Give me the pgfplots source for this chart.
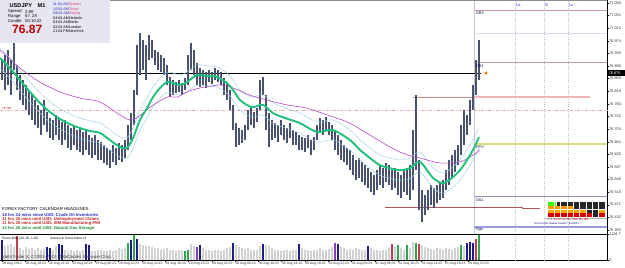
\documentclass[border=0pt]{standalone}
\usepackage{fontspec}
\setmainfont{Liberation Sans}
\usepackage{pgfplots}
\pgfplotsset{compat=1.18}
\usepackage{pgfplotstable}
\definecolor{candle}{HTML}{4A5274}
\definecolor{greenma}{HTML}{1FC07A}
\definecolor{band}{HTML}{9CCFE6}
\definecolor{magma}{HTML}{B43CC8}
\definecolor{lvl}{HTML}{C89A9A}
\definecolor{lav}{HTML}{DCDCF4}
\definecolor{ppv}{HTML}{DCDC78}
\definecolor{dsone}{HTML}{8F8FC0}
\definecolor{rgs}{HTML}{9A9AE6}
\definecolor{volgray}{HTML}{D2D2D2}
\definecolor{volnavy}{HTML}{1C1C8C}
\definecolor{volgreen}{HTML}{2EA84A}
\definecolor{volred}{HTML}{C83C50}
\definecolor{volpurple}{HTML}{8C3CB4}
\definecolor{boxbg}{HTML}{E6E6F2}
\definecolor{tblue}{HTML}{2A2AC0}
\definecolor{tpink}{HTML}{E0407A}
\definecolor{tred}{HTML}{C82020}
\definecolor{tgreen}{HTML}{1E8A2E}
\newcommand\fs[1]{\fontsize{#1}{#1}\selectfont}

\pgfplotstableread{
x lo hi
2 76.853 76.915
5 76.823 76.930
8 76.838 76.946
11 76.807 76.915
14 76.884 76.970
17 76.823 76.899
20 76.792 76.869
23 76.777 76.853
26 76.761 76.838
29 76.746 76.823
32 76.731 76.807
35 76.715 76.792
38 76.706 76.777
41 76.685 76.761
44 76.715 76.792
47 76.694 76.755
50 76.675 76.737
53 76.669 76.731
56 76.685 76.746
59 76.669 76.737
62 76.654 76.724
65 76.669 76.731
68 76.645 76.715
71 76.639 76.706
74 76.654 76.715
77 76.639 76.700
80 76.632 76.706
83 76.623 76.694
86 76.639 76.700
89 76.623 76.685
92 76.614 76.675
95 76.623 76.685
98 76.608 76.669
101 76.608 76.663
104 76.599 76.654
107 76.592 76.645
110 76.583 76.639
113 76.602 76.654
116 76.592 76.645
119 76.608 76.660
122 76.602 76.654
125 76.614 76.669
128 76.639 76.715
131 76.669 76.752
134 76.715 76.823
137 76.807 76.961
140 76.869 76.998
143 76.884 76.976
146 76.853 76.961
149 76.915 76.992
152 76.921 76.976
155 76.899 76.946
158 76.884 76.939
161 76.878 76.930
164 76.869 76.921
167 76.838 76.899
170 76.801 76.863
173 76.807 76.853
176 76.814 76.847
179 76.817 76.853
182 76.807 76.844
185 76.823 76.860
188 76.838 76.930
191 76.884 76.967
194 76.869 76.946
197 76.838 76.906
200 76.832 76.890
203 76.838 76.884
206 76.829 76.878
209 76.847 76.884
212 76.841 76.878
215 76.853 76.890
218 76.847 76.884
221 76.838 76.878
224 76.807 76.860
227 76.792 76.847
230 76.761 76.823
233 76.700 76.777
236 76.648 76.721
239 76.654 76.706
242 76.660 76.700
245 76.669 76.715
248 76.700 76.761
251 76.715 76.770
254 76.706 76.755
257 76.724 76.767
260 76.761 76.853
263 76.807 76.863
266 76.700 76.807
269 76.648 76.752
272 76.669 76.731
275 76.675 76.721
278 76.663 76.715
281 76.685 76.731
284 76.669 76.715
287 76.660 76.706
290 76.675 76.721
293 76.654 76.700
296 76.654 76.694
299 76.639 76.685
302 76.639 76.678
305 76.632 76.675
308 76.645 76.685
311 76.623 76.669
314 76.639 76.678
317 76.669 76.715
320 76.691 76.737
323 76.685 76.731
326 76.700 76.740
329 76.685 76.724
332 76.669 76.715
335 76.639 76.700
338 76.623 76.685
341 76.608 76.669
344 76.602 76.654
347 76.592 76.645
350 76.577 76.639
353 76.562 76.623
356 76.546 76.608
359 76.553 76.614
362 76.540 76.602
365 76.531 76.592
368 76.522 76.583
371 76.510 76.571
374 76.500 76.562
377 76.516 76.577
380 76.531 76.592
383 76.522 76.583
386 76.540 76.599
389 76.531 76.592
392 76.516 76.577
395 76.522 76.583
398 76.500 76.571
401 76.491 76.562
404 76.510 76.577
407 76.500 76.583
410 76.485 76.592
413 76.516 76.700
416 76.577 76.807
419 76.454 76.608
422 76.417 76.516
425 76.439 76.500
428 76.454 76.516
431 76.470 76.531
434 76.460 76.522
437 76.476 76.531
440 76.485 76.540
443 76.491 76.546
446 76.516 76.577
449 76.531 76.608
452 76.553 76.623
455 76.571 76.639
458 76.592 76.654
461 76.623 76.715
464 76.654 76.761
467 76.685 76.746
470 76.715 76.792
473 76.761 76.838
476 76.807 76.915
479 76.853 76.976
}\candles

\pgfplotstableread{
x g up dn
0 76.921 76.952 76.890
10 76.890 76.921 76.859
20 76.853 76.884 76.822
30 76.817 76.848 76.786
40 76.783 76.814 76.752
50 76.755 76.786 76.724
60 76.734 76.765 76.703
70 76.718 76.749 76.687
80 76.706 76.737 76.675
90 76.697 76.728 76.666
100 76.691 76.722 76.660
110 76.669 76.700 76.638
120 76.648 76.679 76.617
127 76.645 76.676 76.614
133 76.675 76.706 76.644
140 76.731 76.762 76.700
147 76.767 76.798 76.736
153 76.801 76.832 76.770
160 76.829 76.860 76.798
167 76.847 76.878 76.816
173 76.844 76.875 76.813
180 76.838 76.869 76.807
187 76.847 76.878 76.816
197 76.869 76.900 76.838
207 76.866 76.897 76.835
217 76.863 76.894 76.832
227 76.844 76.875 76.813
233 76.823 76.854 76.792
240 76.792 76.823 76.761
247 76.777 76.808 76.746
253 76.770 76.801 76.739
263 76.777 76.808 76.746
273 76.752 76.783 76.721
285 76.737 76.768 76.706
300 76.721 76.752 76.690
317 76.694 76.725 76.663
333 76.700 76.731 76.669
350 76.669 76.700 76.638
360 76.639 76.670 76.608
370 76.614 76.645 76.583
380 76.592 76.623 76.561
390 76.583 76.614 76.552
400 76.577 76.608 76.546
410 76.583 76.614 76.552
420 76.602 76.633 76.571
433 76.553 76.584 76.522
443 76.537 76.568 76.506
452 76.553 76.584 76.522
460 76.577 76.608 76.546
467 76.608 76.639 76.577
473 76.639 76.670 76.608
479 76.678 76.709 76.647
}\mas

\pgfplotstableread{
x m
0 76.946
20 76.890
40 76.847
60 76.817
80 76.798
100 76.786
120 76.746
133 76.731
150 76.770
167 76.801
177 76.801
187 76.817
200 76.829
220 76.838
233 76.829
250 76.807
267 76.792
287 76.777
307 76.767
333 76.740
350 76.721
375 76.675
400 76.632
420 76.614
440 76.599
460 76.602
473 76.623
480 76.639
}\magenta

\pgfplotstableread{
x v
2 850
5 600
8 650
11 700
14 550
17 1050
20 500
23 450
26 550
29 480
32 520
35 450
38 500
41 430
44 480
47 550
50 520
53 450
56 600
59 700
62 650
65 450
68 400
71 420
74 380
77 450
80 400
83 420
86 700
89 650
92 400
95 380
98 420
101 450
104 400
107 380
110 420
113 400
116 450
119 500
122 480
125 520
128 750
131 850
134 1100
137 900
140 700
143 650
146 600
149 620
152 550
155 500
158 520
161 450
164 480
167 500
170 450
173 420
176 400
179 450
182 420
185 400
188 450
191 700
194 600
197 550
200 650
203 500
206 450
209 420
212 400
215 450
218 420
221 400
224 450
227 500
230 550
233 750
236 650
239 550
242 500
245 480
248 520
251 450
254 420
257 450
260 600
263 700
266 650
269 600
272 500
275 450
278 420
281 400
284 450
287 420
290 400
293 450
296 420
299 700
302 500
305 450
308 420
311 400
314 450
317 420
320 500
323 450
326 420
329 480
332 550
335 750
338 700
341 550
344 500
347 450
350 480
353 450
356 500
359 480
362 450
365 420
368 600
371 500
374 450
377 420
380 400
383 450
386 420
389 500
392 700
395 550
398 650
401 500
404 450
407 650
410 500
413 800
416 750
419 700
422 650
425 550
428 500
431 480
434 450
437 500
440 480
443 450
446 500
449 480
452 450
455 500
458 550
461 650
464 600
467 750
470 800
473 750
476 900
479 1126
}\vol

\begin{document}
\begin{tikzpicture}[x=1pt,y=1pt]
\useasboundingbox (0pt,0pt) rectangle (625pt,-268pt);
\fill[white] (0pt,0pt) rectangle (625pt,-268pt);

% ---------------- price panel ----------------
\begin{axis}[
  at={(0pt,0pt)}, anchor=north west, scale only axis,
  width=607pt, height=234pt,
  xmin=0, xmax=607, ymin=76.381, ymax=77.099,
  axis x line=none, axis y line*=right,
  axis line style={black, line width=0.5pt},
  xtick=\empty,
  ytick={77.090,77.051,77.012,76.974,76.935,76.896,76.858,76.819,76.780,76.742,76.703,76.664,76.626,76.587,76.548,76.510,76.471,76.432,76.393},
  yticklabels={77.090,77.051,77.012,76.974,76.935,76.896,76.858,76.819,76.780,76.742,76.703,76.664,76.626,76.587,76.548,76.510,76.471,76.432,76.393},
  tick align=outside, major tick length=1.5pt,
  ytick style={black, line width=0.3pt},
  yticklabel style={font=\fs{3.8}, inner xsep=0.6pt, text=black!80},
  clip=false,
]
% vertical session lines
\addplot[black!22, line width=0.5pt, forget plot] coordinates {(474,76.381) (474,77.099)};
\addplot[black!25, dotted, line width=0.4pt, forget plot] coordinates {(515,76.381) (515,77.099)};
\addplot[black!25, dotted, line width=0.4pt, forget plot] coordinates {(544,76.381) (544,77.099)};
\addplot[black!25, dotted, line width=0.4pt, forget plot] coordinates {(568,76.381) (568,77.099)};
% levels
\addplot[lvl, line width=0.6pt] coordinates {(474,77.068) (607,77.068)};
\addplot[lav, line width=1.4pt] coordinates {(474,76.996) (607,76.996)};
\addplot[lvl, line width=0.6pt] coordinates {(474,76.909) (607,76.909)};
\addplot[black, line width=0.7pt] coordinates {(0,76.875) (481,76.875)};
\addplot[lvl!60!pink, dash dot, line width=0.5pt] coordinates {(0,76.761) (607,76.761)};
\addplot[lvl!90!red, line width=0.5pt] coordinates {(413,76.801) (474,76.801)};
\addplot[pink!70!lvl, line width=1.8pt] coordinates {(474,76.801) (590,76.801)};
\addplot[ppv, line width=1.3pt] coordinates {(474,76.657) (607,76.657)};
\addplot[dsone, line width=0.6pt] coordinates {(474,76.497) (607,76.497)};
\addplot[lvl!70!red!80!black, line width=0.5pt] coordinates {(385,76.463) (522,76.463) (522,76.459) (540,76.459)};
\addplot[rgs, line width=2.2pt] coordinates {(474,76.402) (607,76.402)};
% candles
\addplot[draw=none, mark=none, forget plot,
  error bars/.cd, y dir=plus, y explicit, error mark=none,
  error bar style={line width=1.2pt, draw=candle, solid}]
  table[x=x, y=lo, y error expr=\thisrow{hi}-\thisrow{lo}] {\candles};
% moving averages
\addplot[band, line width=0.45pt, smooth] table[x=x, y=up] {\mas};
\addplot[band, line width=0.45pt, smooth] table[x=x, y=dn] {\mas};
\addplot[magma, line width=0.55pt, smooth] table[x=x, y=m] {\magenta};
\addplot[greenma, line width=1.9pt, smooth] table[x=x, y=g] {\mas};
% current price marker
\addplot[only marks, mark=*, mark size=1.4pt, color=orange!90!red] coordinates {(486,76.875)};
\end{axis}

% ---------------- volume panel ----------------
\begin{axis}[
  at={(0pt,-234pt)}, anchor=north west, scale only axis,
  width=607pt, height=26pt,
  xmin=0, xmax=607, ymin=0, ymax=1126.7,
  axis x line*=bottom, axis y line*=right,
  axis line style={black, line width=0.5pt},
  xtick={2,25.3,48.6,71.9,95.2,118.5,141.8,165.1,188.4,211.7,235,258.3,281.6,304.9,328.2,351.5,374.8,398.1,421.4,444.7,468},
  xticklabels={28 Aug 2012,28 Aug 18:23,28 Aug 22:23,29 Aug 02:23,29 Aug 06:23,29 Aug 10:23,29 Aug 14:23,29 Aug 18:23,29 Aug 22:23,30 Aug 02:23,30 Aug 06:23,30 Aug 10:23,30 Aug 14:23,30 Aug 18:23,30 Aug 22:23,31 Aug 02:23,31 Aug 06:23,31 Aug 10:23,31 Aug 14:23,31 Aug 18:23,31 Aug 22:23},
  xticklabel style={font=\fs{3.4}, anchor=north west, inner xsep=0.3pt, inner ysep=0.8pt, text=black!80},
  ytick={0,1126.7}, yticklabels={0,1126.7},
  yticklabel style={font=\fs{3.8}, inner xsep=0.6pt, text=black!80},
  tick align=outside, major tick length=1.5pt,
  tick style={black, line width=0.3pt},
  clip=false,
]
\addplot[black!25, dotted, line width=0.4pt, forget plot] coordinates {(515,0) (515,1126.7)};
\addplot[black!25, dotted, line width=0.4pt, forget plot] coordinates {(544,0) (544,1126.7)};
\addplot[black!25, dotted, line width=0.4pt, forget plot] coordinates {(568,0) (568,1126.7)};
\addplot[ycomb, draw=volgray, line width=2pt] table[x=x, y=v] {\vol};
\addplot[ycomb, draw=volnavy, line width=2pt] coordinates {(2,850) (47,550) (50,520) (59,700) (62,650) (86,700) (89,650) (131,850) (137,900) (200,650) (233,750) (263,700) (299,700) (338,700) (368,600) (467,750) (470,800) (473,750)};
\addplot[ycomb, draw=volgreen, line width=2pt] coordinates {(128,750) (134,1100) (185,400) (188,450) (398,650) (407,650) (416,750) (461,650) (479,1126)};
\addplot[ycomb, draw=volred, line width=2pt] coordinates {(17,1050) (392,700) (419,700) (476,900)};
\addplot[ycomb, draw=volpurple, line width=2pt] coordinates {(197,550) (335,750)};
\end{axis}

% frame lines
\draw[black!45, line width=0.6pt] (0pt,-0.3pt) -- (607pt,-0.3pt);
\draw[black, line width=0.6pt] (0pt,-234pt) -- (607pt,-234pt);

% current price box
\fill[black] (607.6pt,-70.2pt) rectangle (625pt,-76pt);
\node[anchor=west, inner sep=0.6pt, text=white, font=\fs{3.8}] at (608pt,-73.1pt) {76.875};

% level labels
\begin{scope}[every node/.style={anchor=west, inner sep=0pt, font=\fs{3.8}, text=black!70!blue}]
\node at (476pt,-13.6pt) {DR2};
\node at (476pt,-65.8pt) {DR1};
\node at (476pt,-146.8pt) {PPV};
\node at (476pt,-200pt) {DS1};
\node at (476pt,-230pt) {Rgs};
\node[text=blue!60!violet] at (516pt,-5pt) {Lo};
\node[text=blue!60!violet] at (545pt,-5pt) {N};
\node[text=blue!60!violet] at (569pt,-5pt) {Lc};
\node[text=red!60!black, font=\fs{3}] at (2pt,-108pt) {76.761};
\end{scope}

% strength meter
\fill[black!85] (556.5pt,-202pt) rectangle (605pt,-205.6pt);
\fill[green!70!lime] (548pt,-202pt) rectangle (556pt,-205.6pt);
\fill[orange!80!yellow] (548pt,-206pt) rectangle (573pt,-209.2pt);
\fill[black!85] (573.5pt,-206pt) rectangle (605pt,-209.2pt);
\fill[orange!70!yellow] (548pt,-209.6pt) rectangle (586pt,-212.8pt);
\fill[black!85] (586.5pt,-209.6pt) rectangle (598pt,-212.8pt);
\fill[orange!70!yellow] (598.5pt,-209.6pt) rectangle (605pt,-212.8pt);
\fill[red!85!black] (548pt,-213.2pt) rectangle (605pt,-216.6pt);
\fill[black!85] (592pt,-213.2pt) rectangle (598pt,-216.6pt);
\foreach \c in {554.3,560.6,566.9,573.2,579.5,585.8,592.1,598.4}{\draw[white, line width=0.4pt] (\c pt,-202pt) -- (\c pt,-216.6pt);}
\draw[black!30, line width=0.3pt] (545pt,-218pt) -- (607pt,-218pt);
\node[anchor=west, inner sep=0pt, font=\fs{2.6}, text=red!70!black] at (548pt,-220pt) {1\enspace 5\enspace 15\enspace 30\enspace 60\enspace 240\enspace 1440\enspace W1\enspace MN};
\node[anchor=west, inner sep=0pt, font=\fs{2.6}, text=blue!50!black] at (533pt,-224.3pt) {* Pivot Points Master System * EURJPY *};

% info box
\fill[boxbg] (0pt,0pt) rectangle (110pt,-43pt);
\node[anchor=west, inner sep=0pt, font=\fs{5.6}\bfseries] at (9.5pt,-5.5pt) {USDJPY\quad M1};
\begin{scope}[every node/.style={anchor=west, inner sep=0pt, font=\fs{4.2}}]
\node at (8pt,-11.8pt) {Spread}; \node at (25pt,-11.8pt) {2.90};
\node at (8pt,-16.2pt) {Range};  \node at (25pt,-16.2pt) {57, 28};
\node at (8pt,-20.7pt) {Candle}; \node at (25pt,-20.7pt) {00:10:22};
\end{scope}
\node[anchor=west, inner sep=0pt, font=\fs{12}\bfseries, text=red!75!black] at (12pt,-29.5pt) {76.87};
\begin{scope}[every node/.style={anchor=west, inner sep=0pt, font=\fs{3.7}}]
\node at (53pt,-5pt)    {\textcolor{tblue}{11:04 AM}\textcolor{tpink}{Sydney}};
\node at (53pt,-9.4pt)  {\textcolor{tblue}{10:04 AM}\textcolor{tpink}{Tokyo}};
\node at (53pt,-13.8pt) {\textcolor{tblue}{09:04 AM}\textcolor{tpink}{Beijing}};
\node at (53pt,-18.2pt) {04:04 AMHelsinki};
\node at (53pt,-22.6pt) {03:04 AMBerlin};
\node at (53pt,-27pt)   {02:04 AMLondon};
\node at (53pt,-31.4pt) {21:04 PMNewYork};
\end{scope}

% headlines
\begin{scope}[every node/.style={anchor=west, inner sep=0pt, font=\fs{4.3}}]
\node at (2pt,-209.4pt) {FOREX FACTORY CALENDAR HEADLINES:};
\node[text=tblue, font=\fs{4.2}\bfseries] at (2pt,-214.9pt) {18 hrs 34 mins since USD: Crude Oil Inventories};
\node[text=tred, font=\fs{4.2}\bfseries] at (2pt,-219.4pt) {11 hrs 26 mins until USD: Unemployment Claims};
\node[text=tred, font=\fs{4.2}\bfseries] at (2pt,-223.9pt) {11 hrs 26 mins until USD: ISM Manufacturing PMI};
\node[text=tgreen, font=\fs{4.2}\bfseries] at (2pt,-228.4pt) {13 hrs 26 mins until USD: Natural Gas Storage};
\end{scope}

% volume panel texts
\node[anchor=west, inner sep=0pt, font=\fs{3.2}] at (2pt,-238.2pt) {EuroX BSA (20, 10, 1.28)};
\node[anchor=west, inner sep=0pt, font=\fs{3.2}] at (50pt,-238.2pt) {Volume \& Trend Alerts v5};
\node[anchor=west, inner sep=0pt, font=\fs{4.4}, text=black!75] at (2pt,-257.6pt) {MetaTrader 4, © 2001-2012 MetaQuotes Software Corp.};
\end{tikzpicture}
\end{document}
